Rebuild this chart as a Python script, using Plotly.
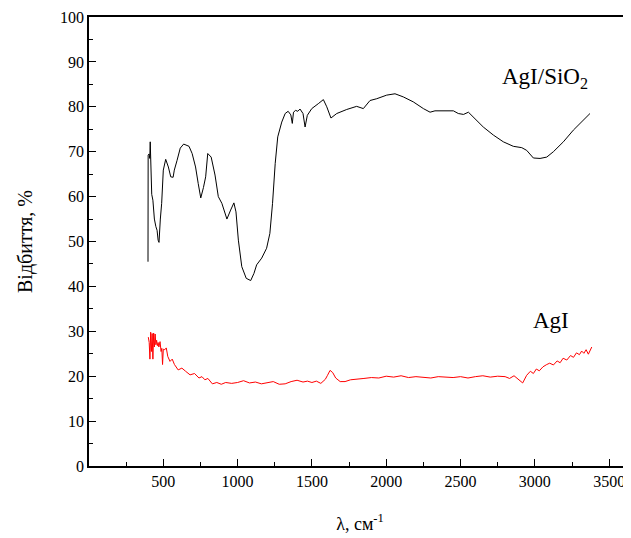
import plotly.graph_objects as go

# AgI/SiO2 spectrum (black)
sio2_x = [397, 398, 404, 409, 412, 417, 422, 430, 440, 450, 458, 465, 471, 480, 489, 500, 516,
          534, 550, 566, 574, 592, 605, 614, 637, 673, 694, 717, 735, 752, 770, 785, 799,
          822, 848, 870, 894, 928, 953, 975, 989, 1005, 1028, 1058, 1088, 1110, 1128, 1162, 1195,
          1217, 1235, 1253, 1270, 1297, 1320, 1340, 1358, 1368, 1376, 1390, 1405, 1420, 1440, 1454,
          1469, 1499, 1543, 1577, 1600, 1628, 1667, 1734, 1801, 1846, 1891, 1936, 2003, 2059,
          2115, 2182, 2250, 2295, 2328, 2384, 2452, 2485, 2520, 2553, 2586, 2653, 2721, 2788,
          2855, 2912, 2945, 2990, 3035, 3080, 3125, 3192, 3259, 3326, 3371]
sio2_y = [45.5, 69.2, 69.5, 68.5, 72.2, 62.2, 60.5, 59.2, 55.0, 53.3, 52.5, 50.3, 49.8, 55.0, 58.5,
          65.9, 68.3, 66.6, 64.4, 64.3, 65.9, 68.0, 69.6, 70.8, 71.7, 71.2, 69.6, 66.6, 62.9, 59.7,
          62.0, 64.4, 69.6, 68.8, 64.8, 60.0, 58.5, 55.0, 57.0, 58.6, 56.6, 50.3, 44.4,
          41.8, 41.3, 42.9, 44.8, 46.3, 48.5, 51.8, 58.5, 67.4, 73.3, 76.6, 78.5, 79.0, 78.2,
          76.3, 78.8, 79.2, 79.0, 79.5, 78.5, 75.5, 78.1, 79.6, 80.7, 81.6, 80.0, 77.5, 78.5,
          79.4, 80.1, 79.6, 81.4, 81.8, 82.6, 82.9, 82.2, 81.1, 79.6, 78.8, 79.1, 79.1, 79.1,
          78.5, 78.3, 78.8, 77.7, 75.5, 73.7, 72.2, 71.2, 70.9, 70.3, 68.6, 68.5, 68.8, 70.0,
          72.2, 74.8, 77.0, 78.5]

# AgI spectrum (red)
agi_x = [399, 405, 410, 415, 420, 425, 430, 435, 440, 445, 450, 455, 460, 465, 470, 478, 485,
         490, 495, 500, 510, 520, 530, 545, 560, 575, 600, 625, 650, 680, 710, 740, 760, 780,
         800, 830, 860, 890, 920, 960, 1000, 1040, 1080, 1120, 1160, 1200, 1240, 1280, 1320,
         1360, 1400, 1440, 1470, 1500, 1530, 1560, 1590, 1605, 1622, 1640, 1660, 1690, 1723,
         1760, 1800, 1850, 1900, 1950, 2000, 2050, 2100, 2150, 2200, 2250, 2300, 2350, 2400,
         2450, 2500, 2550, 2600, 2650, 2700, 2750, 2800, 2830, 2860, 2890, 2918, 2945, 2970,
         2990, 3010, 3030, 3055, 3080, 3100, 3125, 3150, 3170, 3190, 3215, 3240, 3260, 3280,
         3300, 3315, 3330, 3345, 3360, 3383]
agi_y = [28.7, 27.5, 23.8, 29.8, 25.5, 29.5, 23.8, 29.6, 26.5, 29.4, 27.0, 28.0, 26.8, 27.5, 26.5,
         27.7, 25.5, 26.2, 22.6, 26.0, 25.9, 26.3, 24.4, 23.3, 23.8, 22.6, 21.4, 21.8, 21.1, 20.3,
         20.6, 19.6, 19.9, 19.2, 19.5, 18.3, 18.6, 18.2, 18.6, 18.4, 18.6, 19.0, 18.5, 18.7,
         18.3, 18.6, 18.8, 18.2, 18.3, 18.8, 19.1, 18.7, 18.9, 18.6, 18.9, 18.4, 19.3, 20.2,
         21.3, 20.8, 19.6, 18.8, 18.8, 19.2, 19.4, 19.5, 19.7, 19.6, 20.0, 19.8, 20.1, 19.7,
         19.9, 19.8, 19.6, 19.9, 19.8, 19.7, 19.9, 19.6, 19.9, 20.1, 19.8, 20.0, 19.9, 19.5,
         20.1, 19.2, 18.5, 20.2, 21.1, 20.6,
         21.6, 21.2, 22.1, 22.6, 22.9, 22.5, 23.4, 23.0, 24.0, 23.6, 24.6, 24.2, 25.2, 24.8,
         25.6, 25.1, 25.9, 24.9, 26.5, 24.6]

x_ticks = [500, 1000, 1500, 2000, 2500, 3000, 3500]
y_ticks = [0, 10, 20, 30, 40, 50, 60, 70, 80, 90, 100]

font_family = "'Times New Roman', 'Liberation Serif', serif"

fig = go.Figure()
fig.add_trace(go.Scatter(x=sio2_x, y=sio2_y, mode="lines",
                         line=dict(color="black", width=1), showlegend=False))
fig.add_trace(go.Scatter(x=agi_x, y=agi_y, mode="lines",
                         line=dict(color="red", width=1), showlegend=False))

fig.add_annotation(x=3065, y=86.5, text="AgI/SiO<sub>2</sub>", showarrow=False,
                   xanchor="center", yanchor="middle",
                   font=dict(family=font_family, size=23, color="black"))
fig.add_annotation(x=3110, y=32.5, text="AgI", showarrow=False,
                   xanchor="center", yanchor="middle",
                   font=dict(family=font_family, size=23, color="black"))

# page body has an 8px default margin, so the figure is sized to fill the rest
fig.update_layout(
    width=623, height=530,
    margin=dict(l=81, r=0, t=9, b=72, autoexpand=False),
    paper_bgcolor="white", plot_bgcolor="white",
    font=dict(family=font_family, size=16, color="black"),
    xaxis=dict(
        range=[0, 3647], tickvals=x_ticks, ticktext=[str(v) for v in x_ticks],
        ticks="inside", ticklen=7, tickwidth=1, tickcolor="black",
        minor=dict(dtick=250, tick0=0, ticks="inside", ticklen=4, tickcolor="black"),
        showline=True, linecolor="black", linewidth=1.5, mirror=True,
        showgrid=False, zeroline=False, automargin=False,
        title=dict(text="λ, см<sup>-1</sup>", font=dict(family=font_family, size=18), standoff=28),
        tickfont=dict(family=font_family, size=16),
    ),
    yaxis=dict(
        range=[0, 100], tickvals=y_ticks, ticktext=[str(v) for v in y_ticks],
        ticks="inside", ticklen=7, tickwidth=1, tickcolor="black",
        minor=dict(dtick=5, tick0=0, ticks="inside", ticklen=4, tickcolor="black"),
        showline=True, linecolor="black", linewidth=1.5, mirror=False,
        showgrid=False, zeroline=False, automargin=False,
        title=dict(text="Відбиття, %", font=dict(family=font_family, size=20), standoff=22),
        tickfont=dict(family=font_family, size=16),
    ),
)

fig.write_html("out.html")
